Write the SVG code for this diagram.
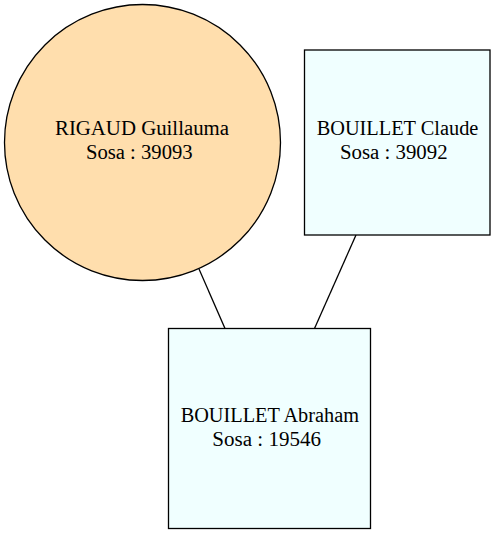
<svg xmlns="http://www.w3.org/2000/svg" width="496" height="535" viewBox="0 0 496 535">
<style>
.n{stroke:#000;stroke-width:1.3}
.c{fill:#ffdead}
.r{fill:#f0ffff}
text{font-family:"Liberation Serif","Times New Roman",serif;font-size:20px;text-anchor:middle;fill:#000}
.e{stroke:#000;stroke-width:1.3;fill:none}
</style>
<rect width="496" height="535" fill="#fff"/>
<g id="edges">
<line class="e" x1="199" y1="269" x2="225" y2="328.5"/>
<line class="e" x1="356" y1="235" x2="314.5" y2="328.5"/>
</g>
<g id="rigaud">
<circle class="n c" cx="142.5" cy="142.5" r="138"/>
<text x="142" y="135" textLength="174" lengthAdjust="spacingAndGlyphs">RIGAUD Guillauma</text>
<text x="139.3" y="159" textLength="106.7" lengthAdjust="spacingAndGlyphs">Sosa : 39093</text>
</g>
<g id="claude">
<rect class="n r" x="304.5" y="50" width="185.5" height="185"/>
<text x="397.5" y="134.5" textLength="161.7" lengthAdjust="spacingAndGlyphs">BOUILLET Claude</text>
<text x="393.8" y="159" textLength="107.7" lengthAdjust="spacingAndGlyphs">Sosa : 39092</text>
</g>
<g id="abraham">
<rect class="n r" x="168.5" y="328.5" width="202" height="200"/>
<text x="269.8" y="422" textLength="178.3" lengthAdjust="spacingAndGlyphs">BOUILLET Abraham</text>
<text x="266.7" y="445.5" textLength="108.7" lengthAdjust="spacingAndGlyphs">Sosa : 19546</text>
</g>
</svg>
